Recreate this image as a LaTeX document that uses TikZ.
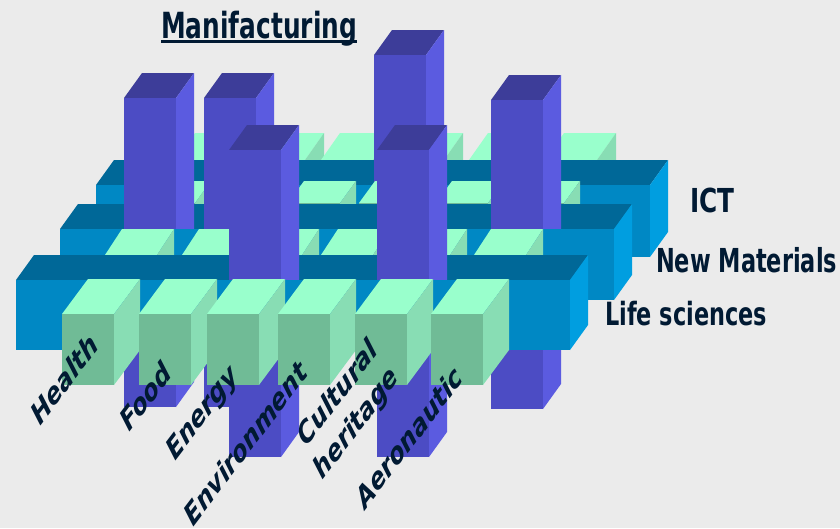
\documentclass[tikz,border=0pt]{standalone}
\usepackage{fontspec}
\setmainfont{DejaVu Sans}
\usepackage{graphicx}
\definecolor{bg}{HTML}{EBEBEB}
\definecolor{blfront}{HTML}{0088C4}
\definecolor{bltop}{HTML}{006898}
\definecolor{blside}{HTML}{009EE0}
\definecolor{grfront}{HTML}{70BB96}
\definecolor{grtop}{HTML}{99FFCC}
\definecolor{grside}{HTML}{88DDB4}
\definecolor{pufront}{HTML}{4C4CC4}
\definecolor{putop}{HTML}{3D3D99}
\definecolor{puside}{HTML}{5B5BE0}
\definecolor{ink}{HTML}{011A33}
% #1 colour prefix, (#2,#3) front top-left, (#4,#5) front bottom-right, (#6,#7) depth offset (right, up)
\newcommand{\cubeTop}[7]{\fill[fill=#1top] (#2,#3) -- (#2+#6,#3-#7) -- (#4+#6,#3-#7) -- (#4,#3) -- cycle;}
\newcommand{\cubeSide}[7]{\fill[fill=#1side] (#4,#3) -- (#4+#6,#3-#7) -- (#4+#6,#5-#7) -- (#4,#5) -- cycle;}
\newcommand{\cubeFront}[7]{\fill[fill=#1front] (#2,#3) rectangle (#4,#5);}
\newcommand{\cubeAll}[7]{\cubeTop{#1}{#2}{#3}{#4}{#5}{#6}{#7}\cubeSide{#1}{#2}{#3}{#4}{#5}{#6}{#7}\cubeFront{#1}{#2}{#3}{#4}{#5}{#6}{#7}}
\tikzset{
  lab/.style={text=ink, font=\bfseries, inner sep=0pt, anchor=base west},
  rot/.style={text=ink, font=\bfseries\itshape\fontsize{30}{38}\selectfont, inner sep=0pt},
  uline/.style={draw=ink, line width=2.5pt}
}
\begin{document}
\begin{tikzpicture}[x=1pt,y=-1pt]
\useasboundingbox (0,0) rectangle (840,528);
\fill[bg] (0,0) rectangle (840,528);
% row 4 greens (behind ICT)
\foreach \f in {62,139,207,278,355,431} {\cubeAll{gr}{\f+114}{160}{\f+166}{231}{19}{27}}
% ICT bar with pillar through it
\cubeTop{bl}{96}{185}{650}{257}{18}{25}
\cubeAll{pu}{374}{55}{426}{364}{18}{25}
\cubeSide{bl}{96}{185}{650}{257}{18}{25}
\cubeFront{bl}{96}{185}{650}{257}{18}{25}
% row 3 greens
\foreach \f in {62,139,207,278,355,431} {\cubeAll{gr}{\f+81}{203}{\f+133}{274}{16}{22}}
% New Materials bar with pillars
\cubeTop{bl}{60}{229}{614}{300}{18}{25}
\cubeAll{pu}{124}{98}{176}{407}{18}{25}
\cubeAll{pu}{204}{98}{256}{407}{18}{25}
\cubeAll{pu}{491}{100}{543}{409}{18}{25}
\cubeSide{bl}{60}{229}{614}{300}{18}{25}
\cubeFront{bl}{60}{229}{614}{300}{18}{25}
% row 2 greens
\foreach \f in {62,139,207,278,355,431} {\cubeAll{gr}{\f+43}{255}{\f+95}{326}{17}{26}}
% Life sciences bar with pillars
\cubeTop{bl}{16}{280}{570}{350}{18}{25}
\cubeAll{pu}{229}{150}{281}{457}{18}{25}
\cubeAll{pu}{377}{150}{429}{457}{18}{25}
\cubeSide{bl}{16}{280}{570}{350}{18}{25}
\cubeFront{bl}{16}{280}{570}{350}{18}{25}
% row 1 greens
\foreach \f in {62,139,207,278,355,431} {\cubeAll{gr}{\f}{314}{\f+52}{385}{26}{35}}
% labels
\node[lab] (man) at (161,38) {\scalebox{0.69}[1]{\fontsize{36}{36}\selectfont Manifacturing}};
\draw[uline] ([yshift=-3.5pt]man.base west) -- ([yshift=-3.5pt]man.base east);
\node[lab] (ict) at (690,212) {\scalebox{0.75}[1]{\fontsize{33}{33}\selectfont ICT}};
\node[lab] (nm) at (656,272) {\scalebox{0.68}[1]{\fontsize{33}{33}\selectfont New Materials}};
\node[lab] (ls) at (605,325) {\scalebox{0.70}[1]{\fontsize{32}{32}\selectfont Life sciences}};
\node[rot] (health) at (64,379) {\scalebox{0.76}[1]{\rotatebox{45}{Health}}};
\node[rot] (food) at (145,396) {\scalebox{0.76}[1]{\rotatebox{45}{Food}}};
\node[rot] (energy) at (203,414) {\scalebox{0.76}[1]{\rotatebox{45}{Energy}}};
\node[rot] (env) at (245,443) {\scalebox{0.76}[1]{\rotatebox{45}{Environment}}};
\node[rot] (cult) at (347,411) {\scalebox{0.76}[1]{\rotatebox{45}{\begin{tabular}{@{}r@{}}Cultural\\heritage\end{tabular}}}};
\node[rot] (aero) at (409,437) {\scalebox{0.76}[1]{\rotatebox{45}{Aeronautic}}};
\end{tikzpicture}
\end{document}
